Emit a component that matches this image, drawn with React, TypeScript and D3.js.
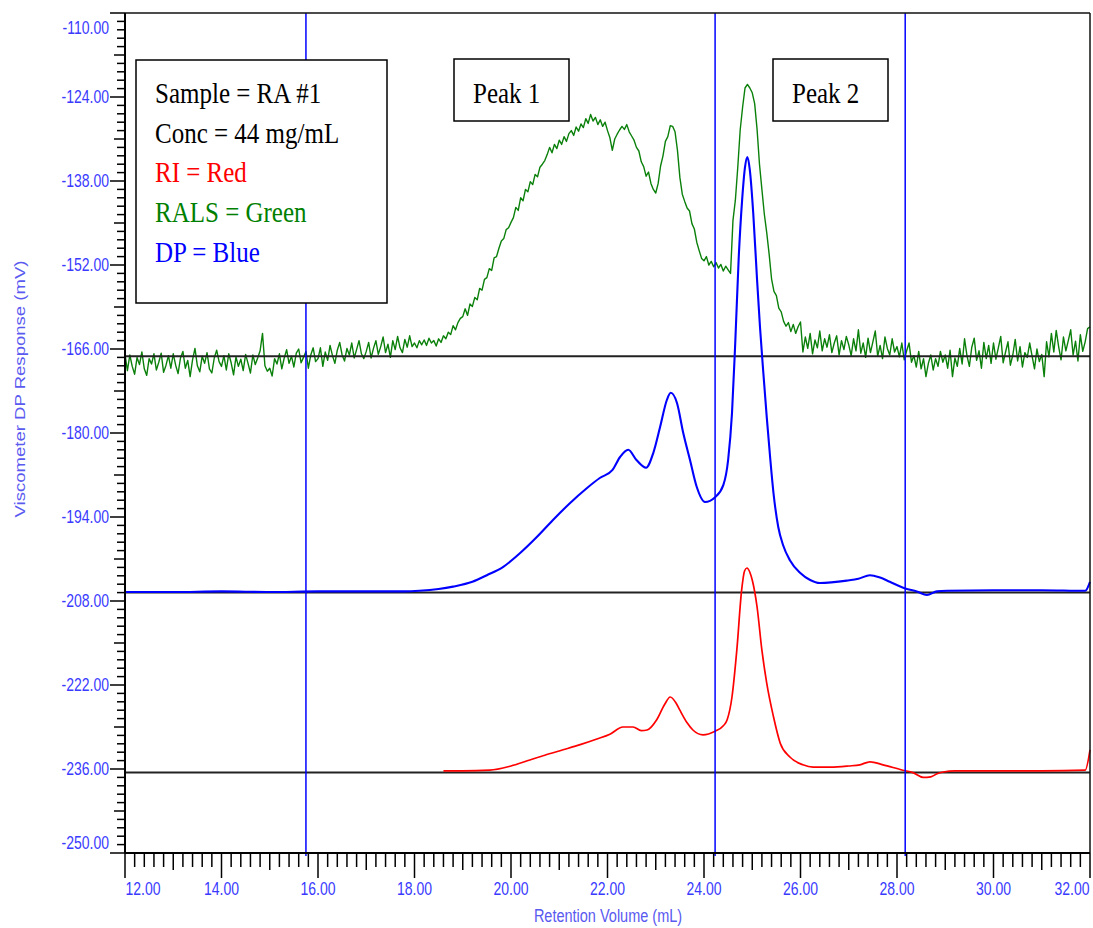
import React from "react";
import * as d3 from "d3";

const WIDTH = 1093;
const HEIGHT = 928;
const M = { left: 125, top: 13, right: 3, bottom: 75 };

// Axis ranges and labelled ticks
const X_DOMAIN: [number, number] = [12, 32];
const Y_DOMAIN: [number, number] = [-250, -110];
const X_TICKS = [12, 14, 16, 18, 20, 22, 24, 26, 28, 30, 32];
const Y_TICKS = [-110, -124, -138, -152, -166, -180, -194, -208, -222, -236, -250];

// RALS detector (green), one reading every 0.05 mL starting at 12.00 mL
const RALS_START = 12;
const RALS_STEP = 0.05;
const RALS = [
  -166.9, -169.6, -167.0, -168.9, -170.2, -167.4, -168.6, -166.5, -169.3, -170.4, -167.6, -168.5, -166.8, -169.5, -168.2, -166.7, -169.9, -168.7, -167.1, -169.2,
  -166.8, -168.7, -170.1, -167.5, -166.4, -169.2, -167.9, -170.6, -167.8, -165.9, -168.8, -169.8, -167.2, -168.4, -166.6, -169.3, -170.0, -167.5, -166.2, -168.1,
  -168.9, -167.1, -169.5, -166.8, -168.3, -170.3, -167.3, -168.9, -167.7, -169.6, -166.9, -168.4, -170.0, -167.0, -168.6, -167.5, -166.3, -163.4, -168.8, -169.7,
  -169.2, -170.5, -167.6, -168.5, -166.8, -169.3, -167.5, -166.1, -168.4, -167.2, -169.0, -166.7, -166.0, -168.3, -167.4, -166.4, -169.2, -167.0, -165.8, -168.1,
  -167.6, -165.8, -168.9, -166.5, -167.9, -165.4, -167.1, -168.4, -166.2, -164.9, -167.0, -168.0, -165.9, -167.0, -165.0, -167.5, -166.1, -164.6, -166.8, -167.6,
  -166.4, -164.9, -167.5, -165.9, -164.6, -166.9, -165.6, -164.0, -166.6, -165.2, -167.4, -164.6, -166.1, -163.9, -165.8, -166.6, -164.4, -165.7, -163.8, -165.6,
  -165.0, -165.8, -164.6, -165.3, -164.5, -165.4, -164.2, -165.0, -164.6, -165.5, -164.3, -164.9, -163.8, -164.3, -163.2, -163.6, -162.1, -162.8, -161.6, -160.9,
  -160.6, -159.3, -160.4, -158.5, -158.9, -157.4, -157.8, -155.9, -156.2, -154.4, -154.1, -152.6, -152.9, -150.8, -150.6, -149.2, -148.0, -147.6, -146.1, -145.8,
  -144.9, -144.1, -142.4, -142.9, -140.8, -141.3, -139.4, -139.8, -138.1, -138.6, -136.9, -137.3, -135.7, -135.2, -134.6, -133.6, -132.4, -133.3, -131.9, -132.6,
  -131.2, -131.9, -130.6, -131.4, -130.1, -129.6, -130.4, -129.0, -129.7, -128.5, -129.1, -127.6, -128.4, -126.9, -128.0, -127.4, -128.6, -127.8, -128.9, -128.2,
  -129.6, -130.8, -132.9, -131.0, -130.2, -129.5, -128.9, -129.4, -128.6, -129.8, -130.5, -131.2, -132.4, -133.0, -134.8, -135.6, -137.2, -136.5, -138.4, -139.4,
  -140.0, -138.4, -135.5, -133.8, -131.4, -130.6, -128.8, -128.9, -129.8, -132.9, -137.4, -140.2, -141.4, -142.5, -143.0, -145.1, -146.0, -148.2, -149.6, -150.9,
  -151.3, -150.6, -152.0, -151.4, -152.3, -151.6, -152.5, -151.9, -153.0, -152.2, -152.8, -153.4, -144.6, -141.2, -135.7, -129.5, -125.7, -122.5, -121.9, -122.5,
  -123.3, -125.1, -129.4, -135.2, -139.4, -143.5, -146.6, -150.2, -154.3, -156.4, -157.1, -159.2, -159.8, -161.4, -162.2, -161.6, -163.1, -161.9, -163.4, -162.3,
  -161.5, -166.5, -164.0, -165.9, -163.4, -166.8, -164.5, -165.8, -163.0, -166.3, -164.3, -165.7, -163.6, -166.6, -165.0, -163.8, -167.0, -164.6, -166.1, -163.9,
  -165.3, -167.1, -164.3, -166.3, -162.8, -166.7, -165.0, -167.4, -164.2, -166.6, -164.8, -163.0, -167.2, -165.4, -167.6, -164.0, -165.9, -167.0, -164.3, -166.5,
  -165.6, -167.3, -165.0, -167.8, -166.3, -165.0, -168.2, -167.1, -169.0, -166.4, -169.3, -167.6, -170.6, -168.4, -167.0, -169.5, -167.6, -168.9, -166.4, -168.2,
  -167.0, -169.2, -166.2, -170.6, -167.5, -168.9, -165.9, -168.5, -164.3, -167.1, -168.9, -165.7, -164.2, -167.9, -166.3, -169.2, -164.9, -167.6, -165.4, -168.4,
  -165.0, -167.7, -165.8, -163.9, -168.3, -166.5, -164.8, -168.7, -167.0, -164.4, -168.0, -165.6, -169.0, -166.6, -167.4, -165.0, -167.2, -169.3, -166.0, -168.1,
  -166.9, -170.6, -164.8, -167.3, -163.4, -166.5, -162.9, -165.6, -167.8, -164.0, -166.3, -164.6, -162.8, -167.0, -164.7, -168.0, -163.6, -166.4, -164.8, -162.6,
  -162.3,
];

// Viscometer DP detector (blue)
const DP_VOLUME = [
  12.0, 13.0, 14.0, 15.0, 16.0, 17.0, 17.8, 18.1, 18.5, 18.8, 19.2, 19.5, 19.84, 20.19, 20.54, 20.87, 21.22, 21.57, 21.84, 22.1,
  22.26, 22.43, 22.6, 22.8, 22.95, 23.09, 23.23, 23.31, 23.44, 23.57, 23.71, 23.85, 24.02, 24.23, 24.4, 24.5, 24.58, 24.65, 24.72, 24.79,
  24.85, 24.9, 24.95, 25.02, 25.1, 25.16, 25.23, 25.3, 25.37, 25.44, 25.54, 25.64, 25.78, 25.99, 26.2, 26.4, 26.96, 27.2, 27.44, 27.65,
  27.85, 28.17, 28.41, 28.62, 28.83, 29.04, 30.0, 31.0, 31.9, 32.0,
];
const DP_RESPONSE = [
  -206.5, -206.5, -206.4, -206.5, -206.4, -206.4, -206.4, -206.3, -206.0, -205.6, -204.8, -203.7, -202.3, -200.0, -197.3, -194.5, -191.7, -189.2, -187.5, -186.2,
  -184.0, -182.8, -184.5, -185.8, -183.3, -179.0, -174.5, -173.3, -175.0, -180.0, -184.5, -189.0, -191.5, -190.7, -188.7, -184.5, -176.7, -164.5, -150.7, -141.2,
  -135.7, -134.0, -136.2, -143.3, -154.5, -162.3, -170.0, -177.3, -184.0, -190.0, -195.7, -198.7, -201.2, -203.3, -204.5, -205.0, -204.6, -204.3, -203.7, -204.1,
  -204.8, -205.9, -206.4, -207.0, -206.4, -206.3, -206.2, -206.2, -206.3, -204.8,
];

// Refractive index detector (red)
const RI_VOLUME = [
  18.6, 19.0, 19.56, 20.0, 20.39, 20.7, 21.08, 21.45, 21.78, 22.05, 22.32, 22.53, 22.7, 22.82, 23.02, 23.18, 23.3, 23.42, 23.5, 23.65,
  23.77, 23.98, 24.23, 24.4, 24.48, 24.58, 24.68, 24.78, 24.84, 24.89, 24.95, 25.0, 25.1, 25.2, 25.3, 25.44, 25.58, 25.78, 26.05, 26.26,
  26.62, 27.0, 27.23, 27.44, 27.71, 28.12, 28.33, 28.54, 28.7, 28.83, 28.96, 29.2, 30.0, 31.0, 31.9, 32.0,
];
const RI_RESPONSE = [
  -236.3, -236.3, -236.2, -235.5, -234.5, -233.7, -232.8, -231.9, -231.0, -230.2, -229.0, -229.0, -229.6, -229.5, -227.8, -225.3, -224.0, -225.0, -226.2, -228.3,
  -229.5, -230.3, -229.7, -228.8, -227.8, -224.0, -216.2, -206.2, -203.0, -202.5, -203.2, -204.5, -209.0, -216.2, -221.7, -227.3, -231.7, -234.0, -235.3, -235.7,
  -235.7, -235.5, -235.3, -234.8, -235.3, -236.2, -236.6, -237.4, -237.3, -236.8, -236.5, -236.3, -236.3, -236.3, -236.2, -232.8,
];

// Integration limits (mL) and detector baselines (mV)
const PEAK_LIMITS = [15.75, 24.23, 28.17];
const BASELINES = [-167.2, -206.6, -236.6];

// Sample information box
const INFO_TEXT = ["Sample = RA #1", "Conc = 44 mg/mL", "RI = Red", "RALS = Green", "DP = Blue"];
const INFO_COLORS = ["#000000", "#000000", "#ff0000", "#008000", "#0000ff"];
const PEAK_NAMES = ["Peak 1", "Peak 2"];

const SANS = "Arial, 'Liberation Sans', sans-serif";
const SERIF = "'Times New Roman', 'Liberation Serif', serif";
const LABEL_BLUE = "#3a3aff";
const TITLE_BLUE = "#5a5af0";

type TProps = {
  x: number;
  y: number;
  size: number;
  family: string;
  color: string;
  stretch: number;
  anchor?: "start" | "middle" | "end";
  rotate?: boolean;
  children: React.ReactNode;
};

// Text drawn with a taller glyph aspect, optionally rotated to run upwards
function TallText({ x, y, size, family, color, stretch, anchor = "start", rotate = false, children }: TProps) {
  const t = `translate(${x},${y}) scale(1,${stretch})${rotate ? " rotate(-90)" : ""}`;
  return (
    <text transform={t} fontSize={size} fontFamily={family} fill={color} textAnchor={anchor}>
      {children}
    </text>
  );
}

export default function App() {
  const x = d3.scaleLinear().domain(X_DOMAIN).range([M.left, WIDTH - M.right]);
  const y = d3.scaleLinear().domain(Y_DOMAIN).range([HEIGHT - M.bottom, M.top]);
  const x0 = x.range()[0];
  const x1 = x.range()[1];
  const yTop = y.range()[1];
  const yBot = y.range()[0];

  const rals: [number, number][] = RALS.map((v, i) => [RALS_START + i * RALS_STEP, v]);
  const dp: [number, number][] = DP_VOLUME.map((v, i) => [v, DP_RESPONSE[i]]);
  const ri: [number, number][] = RI_VOLUME.map((v, i) => [v, RI_RESPONSE[i]]);

  const rawLine = d3.line<[number, number]>().x((d) => x(d[0])).y((d) => y(d[1]));
  const smoothLine = d3
    .line<[number, number]>()
    .x((d) => x(d[0]))
    .y((d) => y(d[1]))
    .curve(d3.curveMonotoneX);

  // Minor tick grids
  const xMinor = d3.range(0, 101).map((i) => X_DOMAIN[0] + i * 0.2);
  const yMinor = d3.range(0, 101).map((i) => Y_DOMAIN[0] + i * 1.4);

  const SY = 1.25;

  return (
    <div style={{ position: "absolute", left: 0, top: 0 }}>
      <svg width={WIDTH} height={HEIGHT} style={{ display: "block", background: "#ffffff" }}>
        <rect x={0} y={0} width={WIDTH} height={HEIGHT} fill="#ffffff" />

        {/* RALS trace */}
        <path d={rawLine(rals) ?? ""} fill="none" stroke="#0a800a" strokeWidth={1.4} strokeLinejoin="round" />

        {/* detector baselines */}
        {BASELINES.map((b) => (
          <line key={b} x1={x0} x2={x1} y1={y(b)} y2={y(b)} stroke="#222222" strokeWidth={2} />
        ))}

        {/* DP and RI traces */}
        <path d={smoothLine(dp) ?? ""} fill="none" stroke="#0000ff" strokeWidth={2.1} strokeLinejoin="round" />
        <path d={smoothLine(ri) ?? ""} fill="none" stroke="#ff0000" strokeWidth={1.7} strokeLinejoin="round" />

        {/* integration limits */}
        {PEAK_LIMITS.map((p) => (
          <line key={p} x1={x(p)} x2={x(p)} y1={yTop} y2={yBot + 3} stroke="#0000ff" strokeWidth={1.5} />
        ))}

        {/* frame */}
        <line x1={x0} x2={x1} y1={yTop} y2={yTop} stroke="#111111" strokeWidth={1.5} />
        <line x1={x1} x2={x1} y1={yTop} y2={yBot} stroke="#111111" strokeWidth={1.5} />
        <line x1={x0} x2={x0} y1={yTop} y2={yBot} stroke="#000000" strokeWidth={2} />
        <line x1={x0} x2={x1} y1={yBot} y2={yBot} stroke="#000000" strokeWidth={2} />

        {/* y ticks */}
        {yMinor.map((v, i) => {
          const len = i % 10 === 0 ? 15 : i % 5 === 0 ? 11 : 8;
          return <line key={"ym" + i} x1={x0 - len} x2={x0} y1={y(v)} y2={y(v)} stroke="#000000" strokeWidth={1.5} />;
        })}
        {Y_TICKS.map((t) => {
          const cy = Math.min(Math.max(y(t), yTop + 15), yBot - 10);
          return (
            <TallText key={"yl" + t} x={x0 - 16} y={cy + 6.2} size={14} family={SANS} color={LABEL_BLUE} stretch={SY} anchor="end">
              {t.toFixed(2)}
            </TallText>
          );
        })}

        {/* x ticks */}
        {xMinor.map((v, i) => {
          const len = i % 10 === 0 ? 25 : i % 5 === 0 ? 17 : 14;
          return <line key={"xm" + i} x1={x(v)} x2={x(v)} y1={yBot} y2={yBot + len} stroke="#000000" strokeWidth={1.5} />;
        })}
        {X_TICKS.map((t) => {
          const cx = Math.min(Math.max(x(t), x0 + 18), x1 - 18);
          return (
            <TallText key={"xl" + t} x={cx} y={894.5} size={14} family={SANS} color={LABEL_BLUE} stretch={SY} anchor="middle">
              {t.toFixed(2)}
            </TallText>
          );
        })}

        {/* axis titles */}
        <TallText x={(x0 + x1) / 2 + 0.5} y={921.5} size={14.5} family={SANS} color={TITLE_BLUE} stretch={SY} anchor="middle">
          Retention Volume (mL)
        </TallText>
        <TallText x={24.5} y={(yTop + yBot) / 2 - 44} size={14.5} family={SANS} color={TITLE_BLUE} stretch={1.28} anchor="middle" rotate>
          Viscometer DP Response (mV)
        </TallText>

        {/* sample information */}
        <rect x={136} y={60} width={251} height={243} fill="#ffffff" stroke="#000000" strokeWidth={1.5} />
        {INFO_TEXT.map((s, i) => (
          <TallText key={s} x={155} y={103 + i * 39.7} size={25} family={SERIF} color={INFO_COLORS[i]} stretch={1.15}>
            {s}
          </TallText>
        ))}

        {/* peak labels */}
        {PEAK_NAMES.map((s, i) => {
          const bx = i === 0 ? 454 : 773;
          return (
            <g key={s}>
              <rect x={bx} y={59} width={115} height={62} fill="#ffffff" stroke="#000000" strokeWidth={1.5} />
              <TallText x={bx + 19} y={103} size={25} family={SERIF} color="#000000" stretch={1.15}>
                {s}
              </TallText>
            </g>
          );
        })}
      </svg>
    </div>
  );
}
